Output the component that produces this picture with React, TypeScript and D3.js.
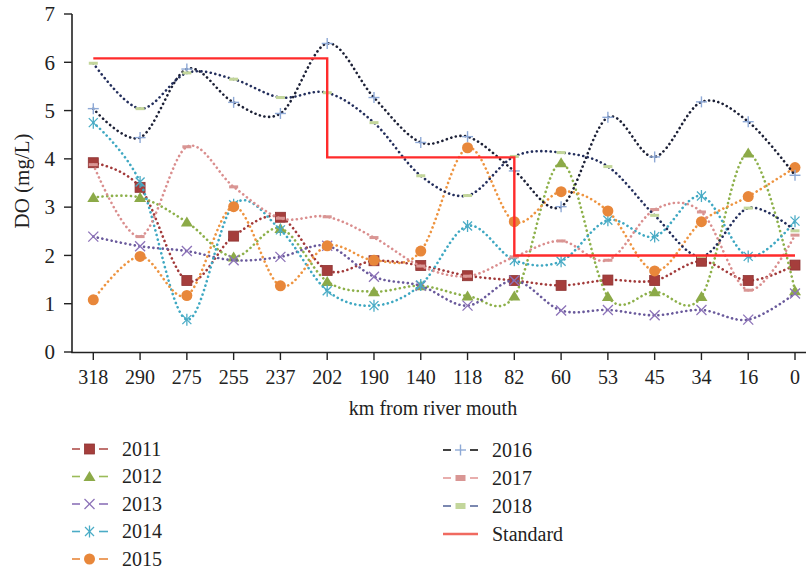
import React from 'react';
import * as d3 from 'd3';

const categories = ["318", "290", "275", "255", "237", "202", "190", "140", "118", "82", "60", "53", "45", "34", "16", "0"];
const do2011 = [3.92, 3.41, 1.48, 2.4, 2.79, 1.69, 1.89, 1.79, 1.58, 1.48, 1.38, 1.49, 1.48, 1.88, 1.48, 1.8];
const do2012 = [3.2, 3.2, 2.69, 1.97, 2.56, 1.46, 1.25, 1.37, 1.16, 1.16, 3.92, 1.15, 1.25, 1.15, 4.12, 1.27];
const do2013 = [2.39, 2.19, 2.09, 1.9, 1.97, 2.2, 1.56, 1.37, 0.96, 1.48, 0.86, 0.87, 0.76, 0.87, 0.67, 1.21];
const do2014 = [4.75, 3.52, 0.67, 3.05, 2.53, 1.27, 0.96, 1.39, 2.61, 1.9, 1.88, 2.73, 2.39, 3.23, 1.98, 2.71];
const do2015 = [1.08, 1.98, 1.17, 3.01, 1.37, 2.2, 1.9, 2.09, 4.23, 2.7, 3.32, 2.92, 1.68, 2.7, 3.22, 3.82];
const do2016 = [5.04, 4.44, 5.86, 5.17, 4.94, 6.39, 5.27, 4.34, 4.46, 3.75, 3.01, 4.86, 4.04, 5.18, 4.77, 3.66];
const do2017 = [3.88, 2.39, 4.25, 3.42, 2.77, 2.8, 2.37, 1.78, 1.57, 1.97, 2.3, 1.9, 2.95, 2.9, 1.28, 2.42];
const do2018 = [5.98, 5.04, 5.78, 5.65, 5.27, 5.37, 4.75, 3.65, 3.24, 4.05, 4.13, 3.84, 2.83, 1.98, 2.98, 2.51];
const standard = [6.08, 6.08, 6.08, 6.08, 6.08, 6.08, 4.03, 4.03, 4.03, 4.03, 2.0, 2.0, 2.0, 2.0, 2.0, 2.0];
const yTicks = [0, 1, 2, 3, 4, 5, 6, 7];

type MarkerKind = 'square' | 'triangle' | 'x' | 'asterisk' | 'circle' | 'plus' | 'dash';

interface Series {
  name: string;
  values: number[];
  line: string;
  legendLine: string;
  marker: MarkerKind;
  mcolor: string;
}

const series: Series[] = [
  { name: '2011', values: do2011, line: '#A23A3A', legendLine: '#B0504C', marker: 'square', mcolor: '#A53E3C' },
  { name: '2012', values: do2012, line: '#8DB04A', legendLine: '#9BBB59', marker: 'triangle', mcolor: '#8CAA48' },
  { name: '2013', values: do2013, line: '#6A5A9C', legendLine: '#8C72B8', marker: 'x', mcolor: '#8C72B8' },
  { name: '2014', values: do2014, line: '#3FA8C2', legendLine: '#4BACC6', marker: 'asterisk', mcolor: '#4BACC6' },
  { name: '2015', values: do2015, line: '#EE9440', legendLine: '#E8873A', marker: 'circle', mcolor: '#E8873A' },
  { name: '2016', values: do2016, line: '#1C2036', legendLine: '#111111', marker: 'plus', mcolor: '#8EA9D6' },
  { name: '2017', values: do2017, line: '#DA8E8E', legendLine: '#E39A98', marker: 'dash', mcolor: '#D99694' },
  { name: '2018', values: do2018, line: '#232E5C', legendLine: '#5A6A9C', marker: 'dash', mcolor: '#C3D69B' },
];

const RED = '#FF2B2B';
const FONT = '"Liberation Serif", "DejaVu Serif", serif';

function Marker({ kind, color, cx, cy, legend }: { kind: MarkerKind; color: string; cx: number; cy: number; legend?: boolean }) {
  const s = 5;
  switch (kind) {
    case 'square':
      return <rect x={cx - s} y={cy - s} width={2 * s} height={2 * s} fill={color} stroke="#8E3332" strokeWidth={0.8} />;
    case 'triangle':
      return <path d={`M${cx},${cy - 5.5}L${cx + 6},${cy + 4.5}L${cx - 6},${cy + 4.5}Z`} fill={color} />;
    case 'x':
      return (
        <g stroke={color} strokeWidth={1.3}>
          <line x1={cx - s} y1={cy - s} x2={cx + s} y2={cy + s} />
          <line x1={cx - s} y1={cy + s} x2={cx + s} y2={cy - s} />
        </g>
      );
    case 'asterisk':
      return (
        <g stroke={color} strokeWidth={1.3}>
          <line x1={cx - 4.5} y1={cy - 4.5} x2={cx + 4.5} y2={cy + 4.5} />
          <line x1={cx - 4.5} y1={cy + 4.5} x2={cx + 4.5} y2={cy - 4.5} />
          <line x1={cx} y1={cy - 6} x2={cx} y2={cy + 6} />
        </g>
      );
    case 'circle':
      return <circle cx={cx} cy={cy} r={5.5} fill={color} />;
    case 'plus':
      return (
        <g stroke={color} strokeWidth={1.4}>
          <line x1={cx - 5.5} y1={cy} x2={cx + 5.5} y2={cy} />
          <line x1={cx} y1={cy - 5.5} x2={cx} y2={cy + 5.5} />
        </g>
      );
    case 'dash':
      return legend
        ? <rect x={cx - 5} y={cy - 3} width={10} height={6} fill={color} />
        : <rect x={cx - 4.5} y={cy - 1.5} width={9} height={3} fill={color} />;
  }
  return null;
}

export default function App() {
  const x = d3.scalePoint<string>().domain(categories).range([93.3, 795]);
  const y = d3.scaleLinear().domain([0, 7]).range([352, 14]);
  const xi = (i: number) => x(categories[i]) as number;

  const smooth = d3.line<number>().x((_, i) => xi(i)).y(d => y(d)).curve(d3.curveCardinal.tension(0));
  const step = d3.line<number>().x((_, i) => xi(i)).y(d => y(d)).curve(d3.curveStepBefore);

  const leftLegend = series.slice(0, 5);
  const rightLegend = series.slice(5);

  return (
    <svg width={806} height={572} style={{ position: 'absolute', left: 0, top: 0, background: '#fff' }} fontFamily={FONT}>
      <rect x={0} y={0} width={806} height={572} fill="#fff" />
      {/* axes */}
      <line x1={72} y1={14} x2={72} y2={352.5} stroke="#222" strokeWidth={1.6} />
      <line x1={71.2} y1={352.5} x2={806} y2={352.5} stroke="#222" strokeWidth={1.6} />
      {yTicks.map(t => (
        <g key={t}>
          <line x1={64} x2={72} y1={y(t)} y2={y(t)} stroke="#222" strokeWidth={1.4} />
          <text x={55} y={y(t)} dy="0.35em" textAnchor="end" fontSize={21} fill="#222">{t}</text>
        </g>
      ))}
      {categories.map((c, i) => (
        <g key={c}>
          <line x1={xi(i)} x2={xi(i)} y1={352.5} y2={360} stroke="#222" strokeWidth={1.4} />
          <text x={xi(i)} y={384} textAnchor="middle" fontSize={20} fill="#222">{c}</text>
        </g>
      ))}
      <text x={433} y={415} textAnchor="middle" fontSize={20} fill="#222">km from river mouth</text>
      <text transform="translate(29,181) rotate(-90)" textAnchor="middle" fontSize={21} fill="#222">DO (mg/L)</text>

      {/* series */}
      {series.map(s => (
        <g key={s.name}>
          <path d={smooth(s.values) || ''} fill="none" stroke={s.line} strokeWidth={2.6}
            strokeDasharray="0.1 4.6" strokeLinecap="round" />
          {s.values.map((v, i) => (
            <Marker key={i} kind={s.marker} color={s.mcolor} cx={xi(i)} cy={y(v)} />
          ))}
        </g>
      ))}
      <path d={step(standard) || ''} fill="none" stroke={RED} strokeWidth={2.4} />

      {/* legend */}
      {leftLegend.map((s, i) => {
        const ly = 449 + i * 27.5;
        return (
          <g key={s.name}>
            <line x1={72} x2={80} y1={ly} y2={ly} stroke={s.legendLine} strokeWidth={1.6} />
            <line x1={99} x2={108} y1={ly} y2={ly} stroke={s.legendLine} strokeWidth={1.6} />
            <Marker kind={s.marker} color={s.mcolor} cx={89.5} cy={ly} legend />
            <text x={122} y={ly} dy="0.33em" fontSize={20} fill="#222">{s.name}</text>
          </g>
        );
      })}
      {rightLegend.map((s, i) => {
        const ly = 450 + i * 28;
        return (
          <g key={s.name}>
            <line x1={443} x2={451} y1={ly} y2={ly} stroke={s.legendLine} strokeWidth={1.6} />
            <line x1={470} x2={478} y1={ly} y2={ly} stroke={s.legendLine} strokeWidth={1.6} />
            <Marker kind={s.marker} color={s.mcolor} cx={460.5} cy={ly} legend />
            <text x={492} y={ly} dy="0.33em" fontSize={20} fill="#222">{s.name}</text>
          </g>
        );
      })}
      <g>
        <line x1={443} x2={478} y1={450 + 3 * 28} y2={450 + 3 * 28} stroke="#F06A60" strokeWidth={2.4} />
        <text x={492} y={450 + 3 * 28} dy="0.33em" fontSize={20} fill="#222">Standard</text>
      </g>
    </svg>
  );
}
